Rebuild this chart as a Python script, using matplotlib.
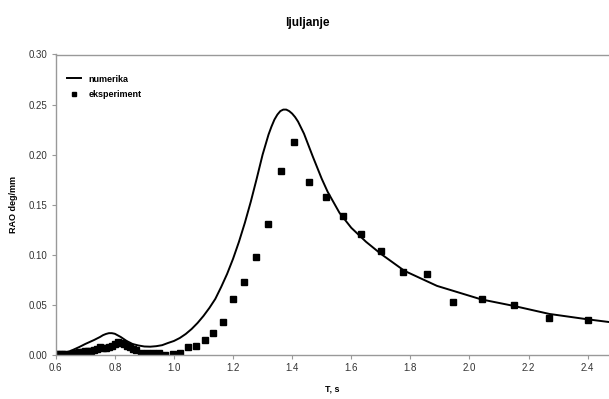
import numpy as np
import matplotlib
matplotlib.use('Agg')
import matplotlib.pyplot as plt

plt.rcParams['font.family'] = ['Liberation Sans', 'DejaVu Sans']

# numericki rezultat (ocitano s grafa)
T_num = [0.60, 0.62, 0.65, 0.68, 0.70, 0.73, 0.75, 0.76, 0.77, 0.78, 0.79, 0.80, 0.82, 0.84,
         0.86, 0.88, 0.90, 0.92, 0.94, 0.96, 0.98, 1.00, 1.02, 1.04, 1.06, 1.08,
         1.10, 1.12, 1.14, 1.16, 1.18, 1.20, 1.22, 1.24, 1.26, 1.28, 1.30, 1.32,
         1.33, 1.34, 1.35, 1.36, 1.37, 1.38, 1.39, 1.40, 1.41, 1.42, 1.44, 1.47,
         1.50, 1.52, 1.56, 1.60, 1.65, 1.70, 1.78, 1.89, 2.04, 2.15, 2.27, 2.40, 2.47]
rao_num = [0.000, 0.0007, 0.004, 0.008, 0.011, 0.015, 0.018, 0.0198, 0.021, 0.0218, 0.0218, 0.0212, 0.018, 0.014,
           0.011, 0.0095, 0.0085, 0.0083, 0.0088, 0.0098, 0.012, 0.014, 0.017, 0.021, 0.026, 0.032,
           0.039, 0.047, 0.056, 0.068, 0.081, 0.096, 0.113, 0.132, 0.153, 0.176, 0.200, 0.220,
           0.228, 0.235, 0.240, 0.2435, 0.245, 0.245, 0.2435, 0.241, 0.2375, 0.233, 0.221, 0.198,
           0.176, 0.163, 0.142, 0.127, 0.113, 0.101, 0.084, 0.069, 0.0555, 0.049, 0.041, 0.0356, 0.033]

# eksperiment
T_exp = [0.60, 0.61, 0.62, 0.63, 0.64, 0.65, 0.66, 0.67, 0.68, 0.69, 0.70, 0.71,
         0.72, 0.73, 0.74, 0.75, 0.76, 0.77, 0.78, 0.79, 0.80, 0.81, 0.82, 0.83,
         0.84, 0.85, 0.86, 0.87, 0.888, 0.908, 0.930, 0.951, 0.971, 0.996, 1.021,
         1.048, 1.075, 1.104, 1.133, 1.166, 1.201, 1.238, 1.278, 1.317, 1.361,
         1.407, 1.458, 1.515, 1.571, 1.633, 1.699, 1.774, 1.856, 1.944, 2.041,
         2.149, 2.268, 2.401]
rao_exp = [0.001, 0.001, 0.001, 0.001, 0.000, 0.001, 0.002, 0.002, 0.003, 0.003, 0.004, 0.004,
           0.004, 0.005, 0.006, 0.008, 0.007, 0.007, 0.008, 0.009, 0.011, 0.013, 0.012, 0.011,
           0.009, 0.008, 0.006, 0.005, 0.0023, 0.0023, 0.0017, 0.0023, 0.000, 0.001, 0.0023,
           0.008, 0.009, 0.0145, 0.022, 0.0334, 0.0555, 0.0733, 0.0977, 0.131, 0.184,
           0.213, 0.173, 0.158, 0.139, 0.121, 0.104, 0.0824, 0.0807, 0.0525, 0.0555,
           0.0498, 0.0366, 0.0346]

fig = plt.figure(figsize=(6.09, 3.99), dpi=100)
ax = fig.add_axes([55.7 / 609, 44 / 399, (609 - 55.7) / 609, 300.5 / 399])

ax.plot(T_num, rao_num, color='black', lw=1.4, label='numerika')
ax.plot(T_exp, rao_exp, ls='none', marker='s', ms=3.9, color='black', label='eksperiment')

ax.set_xlim(0.6, 2.472)
ax.set_ylim(0, 0.30)
ax.set_xticks(np.arange(0.6, 2.41, 0.2))
ax.set_yticks(np.arange(0, 0.301, 0.05))
ax.xaxis.set_major_formatter(matplotlib.ticker.FormatStrFormatter('%.1f'))
ax.yaxis.set_major_formatter(matplotlib.ticker.FormatStrFormatter('%.2f'))

for s in ['left', 'bottom', 'top']:
    ax.spines[s].set_color('#999999')
    ax.spines[s].set_linewidth(1.0)
ax.spines['right'].set_visible(False)
ax.tick_params(direction='out', length=3, width=0.8, color='#999999',
               labelsize=7, labelcolor='#333333', pad=3)

ax.set_xlabel('T, s', fontsize=6.5, fontweight='bold', labelpad=8)
ax.set_ylabel('RAO deg/mm', fontsize=6.5, fontweight='bold', labelpad=8)

fig.text(0.505, 0.942, 'ljuljanje', ha='center', va='center', fontsize=8.5, fontweight='bold')

leg = ax.legend(loc='upper left', bbox_to_anchor=(0.005, 0.96), frameon=False,
                prop={'size': 6.5, 'weight': 'bold'}, handlelength=1.6,
                labelspacing=0.7, markerscale=0.75)

fig.savefig('out.png', dpi=100)
